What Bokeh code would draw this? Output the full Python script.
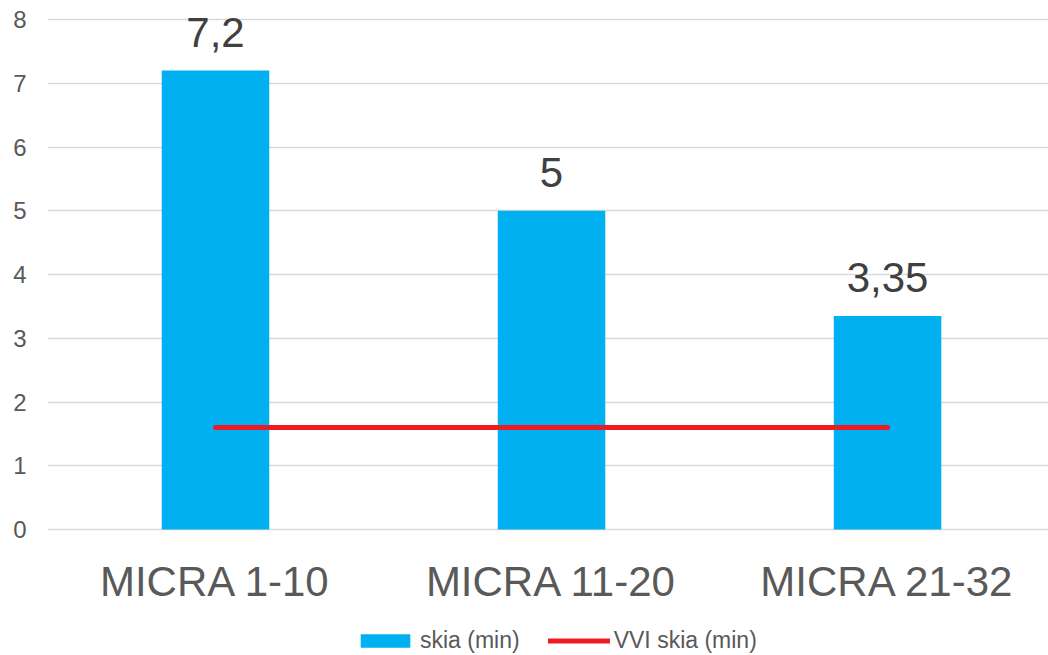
from bokeh.plotting import figure
from bokeh.models import ColumnDataSource, FixedTicker, Legend, LegendItem, Range1d
from bokeh.embed import file_html
from bokeh.resources import INLINE
from bokeh.core.properties import value

categories = ["MICRA 1-10", "MICRA 11-20", "MICRA 21-32"]
skia_min = [7.2, 5, 3.35]
skia_labels = ["7,2", "5", "3,35"]
vvi_skia_min = [1.6, 1.6, 1.6]
y_ticks = [0, 1, 2, 3, 4, 5, 6, 7, 8]
series_names = ["skia (min)", "VVI skia (min)"]

x_pos = list(range(len(categories)))
src = ColumnDataSource(dict(x=x_pos, top=skia_min, label=skia_labels, vvi=vvi_skia_min))

FONT = "Liberation Sans"

p = figure(
    x_range=Range1d(-0.5, 2.479), y_range=Range1d(-1.976, 8.11),
    frame_width=1001, frame_height=643,
    min_border_left=47, min_border_top=12, min_border_right=0, min_border_bottom=0,
    output_backend="svg", toolbar_location=None,
)
p.outline_line_color = None
p.background_fill_color = "white"

bars = p.vbar(x="x", top="top", width=0.32, source=src, color="#00B0F0", line_color=None)
line = p.line(x="x", y="vvi", source=src, line_color="#ED1C24", line_width=5, line_cap="round")
p.text(x="x", y="top", text="label", source=src, text_align="center", text_baseline="bottom",
       y_offset=-24, text_font_size="42px", text_color="#404040", text_font=value(FONT))

p.xgrid.visible = False
p.ygrid.grid_line_color = "#D9D9D9"
p.ygrid.grid_line_width = 1.5

p.yaxis.ticker = FixedTicker(ticks=y_ticks)
p.xaxis.ticker = FixedTicker(ticks=x_pos)
p.xaxis.major_label_overrides = {i: c for i, c in zip(x_pos, categories)}
p.xaxis.fixed_location = 0

for ax in (p.xaxis[0], p.yaxis[0]):
    ax.axis_line_color = None
    ax.major_tick_line_color = None
    ax.minor_tick_line_color = None
    ax.major_tick_out = 0
    ax.major_tick_in = 0
    ax.major_label_text_color = "#595959"
    ax.major_label_text_font = FONT

p.xaxis.major_label_standoff = 28
p.xaxis.major_label_text_font_size = "42px"
p.yaxis.major_label_text_font_size = "24px"
p.yaxis.major_label_standoff = 21

legend = Legend(
    items=[LegendItem(label=series_names[0], renderers=[bars]),
           LegendItem(label=series_names[1], renderers=[line])],
    orientation="horizontal", location=(307, 1),
    border_line_color=None, background_fill_alpha=0,
    glyph_width=62, glyph_height=17, label_standoff=4, spacing=28,
    label_text_font_size="23px", label_text_color="#595959", label_text_font=FONT,
    padding=0, margin=0,
)
p.add_layout(legend, "center")

open("out.html", "w").write(file_html(p, INLINE))
